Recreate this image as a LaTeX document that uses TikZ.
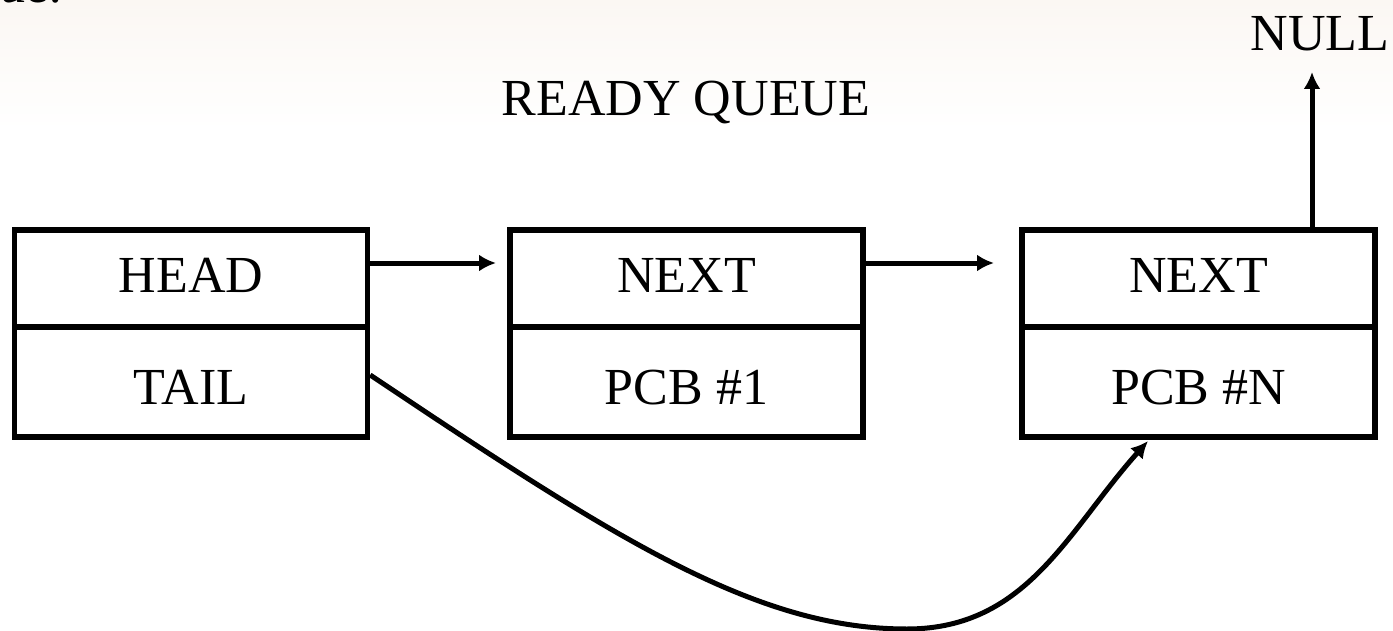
\documentclass[tikz,border=0pt]{standalone}
\usepackage{fontspec}
\setmainfont{Liberation Serif}
\usetikzlibrary{arrows.meta,calc}
\definecolor{bgcream}{RGB}{251,247,243}
\tikzset{
  cell/.style={draw, line width=2.7pt, minimum width=176.5pt, inner sep=0pt,
               font=\fontsize{26}{30}\selectfont},
  topcell/.style={cell, minimum height=48.5pt, text height=17.2pt, text depth=3.5pt},
  botcell/.style={cell, minimum height=55pt, text height=22.2pt, text depth=0pt},
  arr/.style={line width=2.5pt, -{Latex[length=8.5pt,width=8.5pt]}},
  lbl/.style={inner sep=0pt, font=\fontsize{26}{30}\selectfont, text height=17.2pt, text depth=0pt}
}
\begin{document}
\begin{tikzpicture}[x=0.5pt,y=-0.5pt]
\useasboundingbox (0,0) rectangle (1393,631);
\fill[white] (0,0) rectangle (1393,631);
\shade[top color=bgcream, bottom color=white] (0,0) rectangle (1393,130);
\node[anchor=base west, inner sep=0pt, font=\fontsize{26}{30}\selectfont] (frag) at (-1,3) {ue:};
% title
\node[lbl] (title) at (686,98.5) {READY QUEUE};
\node[lbl] (null) at (1320,33) {NULL};
% boxes
\node[topcell] (t1) at (191,278.5) {HEAD};
\node[botcell] (b1) at (191,382) {TAIL};
\node[topcell] (t2) at (686.5,278.5) {NEXT};
\node[botcell] (b2) at (686.5,382) {PCB \#1};
\node[topcell] (t3) at (1198.5,278.5) {NEXT};
\node[botcell] (b3) at (1198.5,382) {PCB \#N};
% arrow ends
\coordinate (h1) at (496,263);
\coordinate (h2) at (994,263);
\coordinate (nt) at (1312,72);
\coordinate (ct) at (1148,441);
\coordinate (cb) at (907,629);
\draw[arr] (t1.east |- h1) -- (h1);
\draw[arr] (t2.east |- h2) -- (h2);
\draw[arr] (t3.north -| nt) -- (nt);
\draw[arr] ($(b1.east)+(0,-7)$) .. controls (619,541.5) and (757,629) .. (cb)
  .. controls (1027,629) and (1067.6,530.8) .. (ct);
\end{tikzpicture}
\end{document}
